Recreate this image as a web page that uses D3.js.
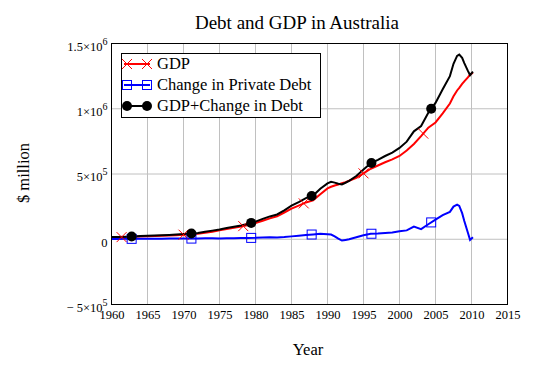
<!DOCTYPE html>
<html>
<head>
<meta charset="utf-8">
<script src="https://cdn.jsdelivr.net/npm/d3@7"></script>
<style>
  body { margin: 0; background: #fff; }
  text { font-family: "Liberation Serif", "DejaVu Serif", serif; fill: #000; }
</style>
</head>
<body>
<div id="chart"></div>
<script>
// values in $ million
var years = [1960, 1961, 1962, 1963, 1964, 1965, 1966, 1967, 1968, 1969,
             1970, 1971, 1972, 1973, 1974, 1975, 1976, 1977, 1978, 1979,
             1980, 1981, 1982, 1983, 1984, 1985, 1986, 1987, 1988, 1989,
             1990, 1990.5, 1991, 1991.5, 1992, 1992.5, 1993, 1994, 1995, 1996,
             1997, 1998, 1999, 2000, 2001, 2002, 2003, 2004, 2005, 2006,
             2007, 2007.5, 2008, 2008.3, 2008.7, 2009, 2009.5, 2009.8, 2010.2]
var gdp = [15000, 16000, 17000, 18500, 20500, 22500, 24000, 26500, 28500, 31500,
           35000, 38500, 42500, 49000, 58000, 69000, 79000, 88000, 97000, 109000,
           124000, 142000, 160000, 176000, 205000, 235000, 258000, 282000, 298000, 345000,
           390000, 402000, 412000, 420000, 430000, 438000, 448000, 470000, 505000, 540000,
           565000, 590000, 612000, 638000, 680000, 730000, 790000, 855000, 895000, 965000,
           1040000, 1095000, 1140000, 1160000, 1190000, 1210000, 1240000, 1262000, 1277000]
var debtChange = [2000, 2000, 3000, 3000, 4000, 4000, 4000, 4000, 5000, 5000,
                  5000, 5000, 6000, 8000, 8000, 6000, 7000, 8000, 9000, 10000,
                  11000, 14000, 15000, 14000, 17000, 22000, 27000, 33000, 37000, 42000,
                  38000, 36000, 22000, 5000, -10000, -5000, 0, 15000, 30000, 42000,
                  44000, 48000, 52000, 62000, 68000, 97000, 78000, 115000, 150000, 185000,
                  210000, 250000, 265000, 255000, 200000, 140000, 50000, -5000, 15000]
var gdpPlusDebt = [17000, 18000, 20000, 21500, 24500, 26500, 28000, 30500, 33500, 36500,
                   40000, 43500, 48500, 57000, 66000, 75000, 86000, 96000, 106000, 119000,
                   135000, 156000, 175000, 190000, 222000, 257000, 285000, 315000, 335000, 387000,
                   428000, 440000, 434000, 425000, 420000, 433000, 448000, 485000, 535000, 582000,
                   609000, 638000, 664000, 700000, 748000, 827000, 868000, 970000, 1045000, 1150000,
                   1250000, 1345000, 1405000, 1415000, 1390000, 1350000, 1290000, 1258000, 1285000]

var gdpMarkerYears = [1961.4, 1970.0, 1978.3, 1986.7, 1995.0, 2003.3]
var debtMarkerYears = [1962.8, 1971.1, 1979.4, 1987.8, 1996.1, 2004.4]

var xTicks = [1960, 1965, 1970, 1975, 1980, 1985, 1990, 1995, 2000, 2005, 2010, 2015]
var yTicks = [-500000, 0, 500000, 1000000, 1500000]
var yTickBase = ["\u2212 5\u00d710", "0", "5\u00d710", "1\u00d710", "1.5\u00d710"]
var yTickExp = ["5", "", "5", "6", "6"]

var seriesNames = ["GDP", "Change in Private Debt", "GDP+Change in Debt"]

var W = 535, H = 384
var pLeft = 111.5, pRight = 507.5, pTop = 43.5, pBottom = 304.5

var svg = d3.select("#chart").append("svg")
            .attr("width", W)
            .attr("height", H)

var x = d3.scaleLinear().domain([1960, 2015]).range([pLeft, pRight])
var y = d3.scaleLinear().domain([-500000, 1500000]).range([pBottom, pTop])

// grid
svg.append("g").selectAll("line")
   .data(xTicks.slice(1, -1)).enter().append("line")
   .attr("x1", d => x(d)).attr("x2", d => x(d))
   .attr("y1", pTop).attr("y2", pBottom)
   .attr("stroke", "#c0c0c0").attr("stroke-width", 1)
svg.append("g").selectAll("line")
   .data(yTicks.slice(1, -1)).enter().append("line")
   .attr("x1", pLeft).attr("x2", pRight)
   .attr("y1", d => y(d)).attr("y2", d => y(d))
   .attr("stroke", "#c0c0c0").attr("stroke-width", 1)

// x axis labels
var xAxis = svg.append("g")
               .attr("transform", "translate(0," + pBottom + ")")
               .call(d3.axisBottom(x).tickValues(xTicks).tickFormat(d3.format("d")).tickSize(0).tickPadding(6))
xAxis.select(".domain").remove()
xAxis.selectAll("text").attr("font-size", 12.5).attr("font-family", "Liberation Serif").attr("fill", "#000")

// y axis labels
var yAxis = svg.append("g")
               .attr("transform", "translate(" + (pLeft - 4) + ",0)")
               .call(d3.axisLeft(y).tickValues(yTicks).tickSize(0).tickPadding(0))
yAxis.select(".domain").remove()
yAxis.selectAll("text")
     .attr("font-size", 12.5).attr("font-family", "Liberation Serif").attr("fill", "#000")
     .attr("dy", "0.55em")
     .each(function(d) {
        var i = yTicks.indexOf(d)
        var t = d3.select(this).text(yTickBase[i])
        if (yTickExp[i]) {
          t.append("tspan").attr("dy", "-0.6em").attr("font-size", 10).text(yTickExp[i])
        }
     })

// clip
svg.append("clipPath").attr("id", "plotclip")
   .append("rect").attr("x", pLeft).attr("y", pTop).attr("width", pRight - pLeft).attr("height", pBottom - pTop)

var plot = svg.append("g").attr("clip-path", "url(#plotclip)")

function lineFor(vals) {
  return d3.line().x((d, i) => x(years[i])).y((d, i) => y(vals[i]))(vals)
}

function valueAt(vals, yr) {
  var i = d3.bisectLeft(years, yr)
  if (i <= 0) return vals[0]
  if (i >= years.length) return vals[vals.length - 1]
  var t = (yr - years[i - 1]) / (years[i] - years[i - 1])
  return vals[i - 1] + t * (vals[i] - vals[i - 1])
}

plot.append("path").attr("d", lineFor(gdp))
    .attr("fill", "none").attr("stroke", "#ff0000").attr("stroke-width", 2)
plot.append("path").attr("d", lineFor(debtChange))
    .attr("fill", "none").attr("stroke", "#0000ff").attr("stroke-width", 2)
plot.append("path").attr("d", lineFor(gdpPlusDebt))
    .attr("fill", "none").attr("stroke", "#000").attr("stroke-width", 2)

function drawCross(g, cx, cy) {
  g.append("path")
   .attr("d", "M" + (cx - 5) + "," + (cy - 5) + "L" + (cx + 5) + "," + (cy + 5) +
              "M" + (cx - 5) + "," + (cy + 5) + "L" + (cx + 5) + "," + (cy - 5))
   .attr("stroke", "#ff0000").attr("stroke-width", 1).attr("fill", "none")
}
function drawSquare(g, cx, cy) {
  g.append("rect").attr("x", cx - 4.5).attr("y", cy - 4.5).attr("width", 9).attr("height", 9)
   .attr("fill", "none").attr("stroke", "#0000ff").attr("stroke-width", 1)
}
function drawDot(g, cx, cy) {
  g.append("circle").attr("cx", cx).attr("cy", cy).attr("r", 5).attr("fill", "#000")
}

gdpMarkerYears.forEach(function(yr) { drawCross(plot, x(yr), y(valueAt(gdp, yr))) })
debtMarkerYears.forEach(function(yr) { drawSquare(plot, x(yr), y(valueAt(debtChange, yr))) })
debtMarkerYears.forEach(function(yr) { drawDot(plot, x(yr), y(valueAt(gdpPlusDebt, yr))) })

// frame
svg.append("rect").attr("x", pLeft).attr("y", pTop)
   .attr("width", pRight - pLeft).attr("height", pBottom - pTop)
   .attr("fill", "none").attr("stroke", "#000").attr("stroke-width", 1)

// legend
var legend = svg.append("g")
legend.append("rect").attr("x", 121.5).attr("y", 53.5).attr("width", 199).attr("height", 64)
      .attr("fill", "#fff").attr("stroke", "#000").attr("stroke-width", 1)
var colors = ["#ff0000", "#0000ff", "#000"]
var drawers = [drawCross, drawSquare, drawDot]
seriesNames.forEach(function(name, i) {
  var ly = 64 + i * 21
  legend.append("line").attr("x1", 124).attr("x2", 150).attr("y1", ly).attr("y2", ly)
        .attr("stroke", colors[i]).attr("stroke-width", 2)
  drawers[i](legend, 127, ly)
  drawers[i](legend, 147, ly)
  legend.append("text").attr("x", 157).attr("y", ly + 5)
        .attr("font-size", 16.5).text(name)
})

// titles
svg.append("text").attr("x", 297).attr("y", 29).attr("text-anchor", "middle")
   .attr("font-size", 19).text("Debt and GDP in Australia")
svg.append("text").attr("x", 308).attr("y", 355).attr("text-anchor", "middle")
   .attr("font-size", 16.5).text("Year")
svg.append("text").attr("transform", "translate(29,173) rotate(-90)")
   .attr("text-anchor", "middle").attr("font-size", 16.5).text("$ million")
</script>
</body>
</html>
